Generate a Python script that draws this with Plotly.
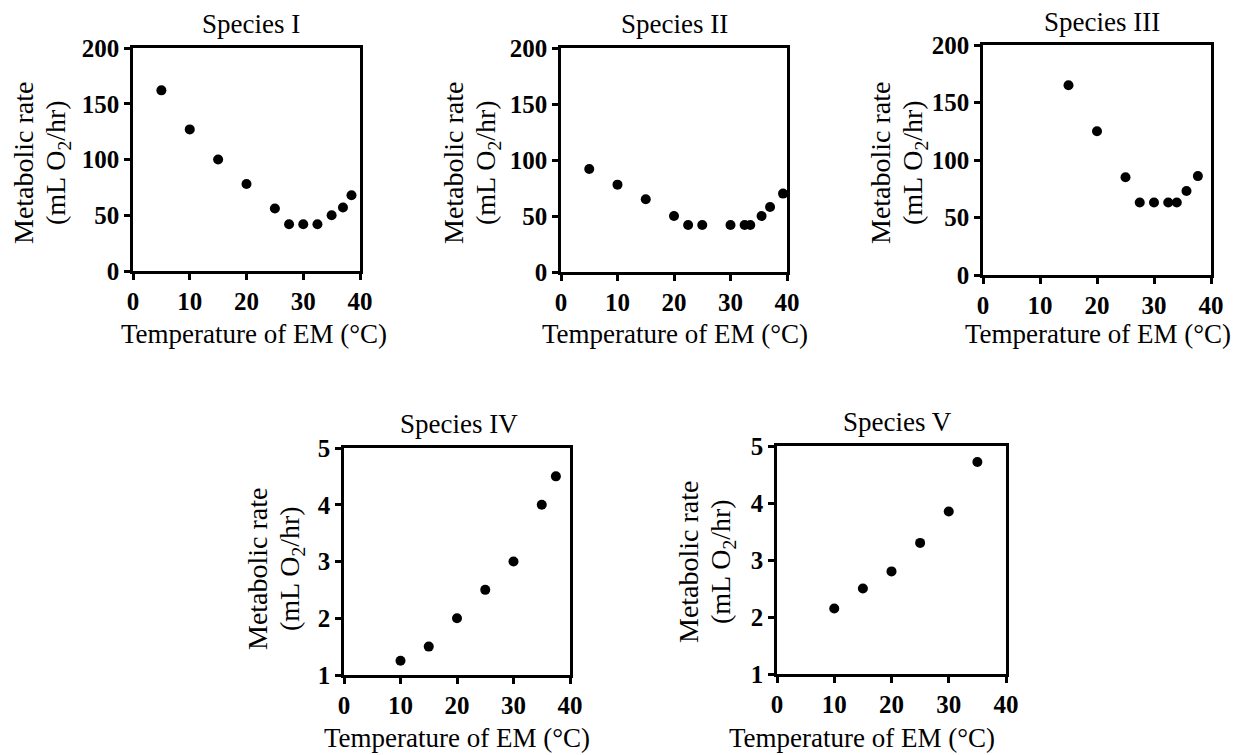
import plotly.graph_objects as go

W, H = 1247, 755

# ---- data ----
titles = ["Species I", "Species II", "Species III", "Species IV", "Species V"]

x1 = [5, 10, 15, 20, 25, 27.5, 30, 32.5, 35, 37, 38.5]
y1 = [162, 127, 100, 78, 56, 42, 42, 42, 50, 57, 68]

x2 = [5, 10, 15, 20, 22.5, 25, 30, 32.5, 33.5, 35.5, 37, 39.3]
y2 = [92, 78, 65, 50, 42, 42, 42, 42, 42, 50, 58, 70]

x3 = [15, 20, 25, 27.5, 30, 32.5, 34, 35.7, 37.7]
y3 = [165, 125, 85, 63, 63, 63, 63, 73, 86]

x4 = [10, 15, 20, 25, 30, 35, 37.5]
y4 = [1.25, 1.5, 2.0, 2.5, 3.0, 4.0, 4.5]

x5 = [10, 15, 20, 25, 30, 35]
y5 = [2.15, 2.5, 2.8, 3.3, 3.85, 4.72]

xs = [x1, x2, x3, x4, x5]
ys = [y1, y2, y3, y4, y5]

xticks = [0, 10, 20, 30, 40]
yticks_top = [0, 50, 100, 150, 200]
yticks_bot = [1, 2, 3, 4, 5]

x_title = "Temperature of EM (°C)"
y_title_1 = "Metabolic rate"
y_title_2 = "(mL O<sub>2</sub>/hr)"

# ---- layout (pixel boxes of plot areas: left, right, top, bottom) ----
boxes = [
    (133, 360, 48, 271),
    (561, 787, 48, 272),
    (983, 1211, 45, 275),
    (344, 570, 448, 675),
    (777, 1006, 446, 674),
]
yranges = [[0, 200], [0, 200], [0, 200], [1, 5], [1, 5]]
yticks = [yticks_top, yticks_top, yticks_top, yticks_bot, yticks_bot]
# annotation positions (pixels): title center, x-title center, y-title center
title_pos = [(251, 24), (675, 24), (1102, 22), (459, 424), (897, 422)]
xt_pos = [(254, 334), (675, 334), (1098, 334), (457, 738), (862, 738)]
yt_pos = [(40, 163), (470, 163), (897, 163), (274, 569), (705, 562)]
LINE_GAP = 17

FONT = "Liberation Serif"
TICKFONT = dict(family="Liberation Serif", size=25, color="black", weight="bold")
fig = go.Figure()
annotations = []

def px(x):
    return x / W

def py(y):
    return 1 - y / H

for i in range(5):
    n = "" if i == 0 else str(i + 1)
    l, r, t, b = boxes[i]
    fig.add_trace(go.Scatter(
        x=xs[i], y=ys[i], mode="markers",
        marker=dict(color="black", size=10),
        xaxis="x" + n, yaxis="y" + n, showlegend=False,
        cliponaxis=False,
    ))
    axis_common = dict(
        showline=True, linecolor="black", linewidth=2.5, mirror=True,
        ticks="outside", ticklen=6, tickwidth=2.5, tickcolor="black",
        showgrid=False, zeroline=False, automargin=False,
        tickfont=TICKFONT,
        fixedrange=True,
    )
    fig.layout["xaxis" + n] = dict(
        domain=[px(l), px(r)], range=[0, 40], tickvals=xticks,
        anchor="y" + n, **axis_common)
    fig.layout["yaxis" + n] = dict(
        domain=[py(b), py(t)], range=yranges[i], tickvals=yticks[i],
        anchor="x" + n, **axis_common)

    tx, ty = title_pos[i]
    annotations.append(dict(
        text=titles[i], x=px(tx), y=py(ty), xref="paper", yref="paper",
        showarrow=False, xanchor="center", yanchor="middle",
        font=dict(family=FONT, size=27, color="black")))
    ax, ay = xt_pos[i]
    annotations.append(dict(
        text=x_title, x=px(ax), y=py(ay), xref="paper", yref="paper",
        showarrow=False, xanchor="center", yanchor="middle",
        font=dict(family=FONT, size=27, color="black")))
    yx, yy = yt_pos[i]
    for txt, off in ((y_title_1, -LINE_GAP), (y_title_2, LINE_GAP)):
        annotations.append(dict(
            text=txt, x=px(yx + off), y=py(yy), xref="paper", yref="paper",
            showarrow=False, xanchor="center", yanchor="middle", textangle=-90,
            font=dict(family=FONT, size=28, color="black")))

fig.update_layout(
    width=W, height=H,
    margin=dict(l=0, r=0, t=0, b=0, autoexpand=False),
    paper_bgcolor="white", plot_bgcolor="white",
    annotations=annotations,
)

fig.write_html("out.html")
